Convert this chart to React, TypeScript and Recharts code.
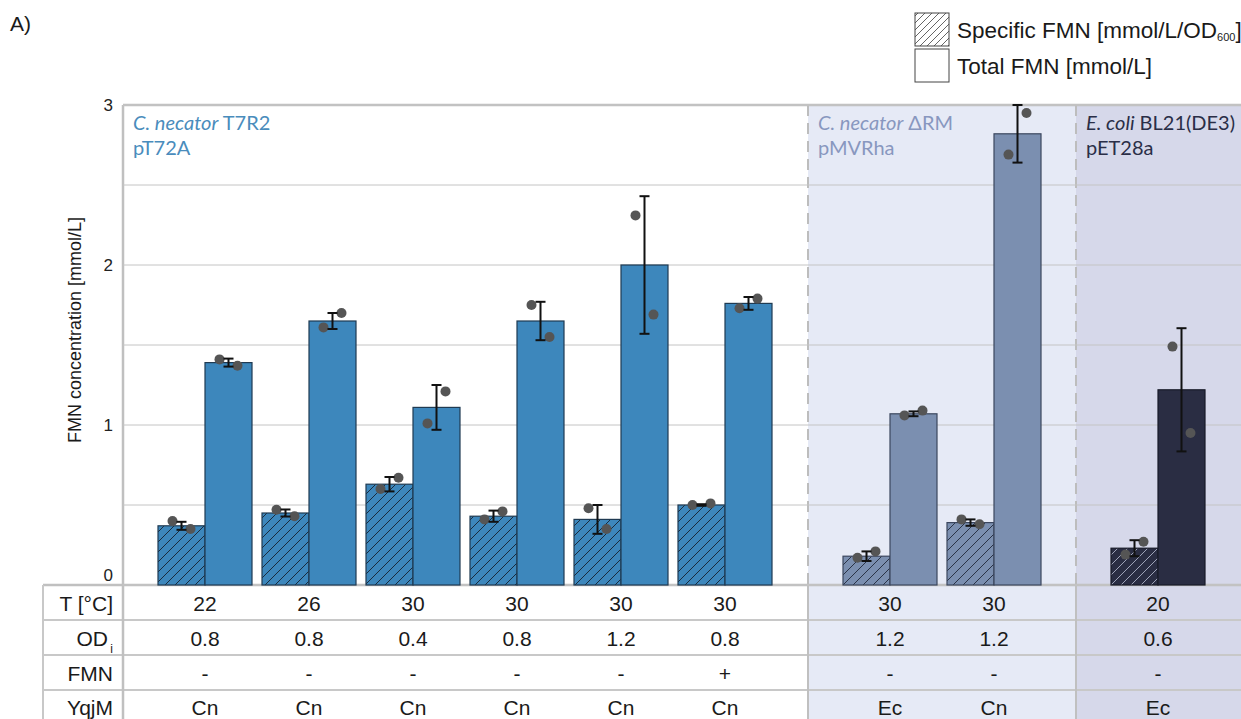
import React from 'react';
import { ComposedChart, Bar, ErrorBar, XAxis, YAxis, CartesianGrid } from 'recharts';

// culture conditions shown in the table under the bars
const temperatures = ['22', '26', '30', '30', '30', '30', '30', '30', '20'];
const initialOd = ['0.8', '0.8', '0.4', '0.8', '1.2', '0.8', '1.2', '1.2', '0.6'];
const fmnAdded = ['-', '-', '-', '-', '-', '+', '-', '-', '-'];
const yqjmOrigin = ['Cn', 'Cn', 'Cn', 'Cn', 'Cn', 'Cn', 'Ec', 'Cn', 'Ec'];

// specific FMN [mmol/L/OD600]
const specificMean = [0.37, 0.45, 0.63, 0.43, 0.41, 0.5, 0.18, 0.39, 0.23];
const specificSd = [0.025, 0.022, 0.045, 0.035, 0.09, 0.005, 0.03, 0.02, 0.05];
const specificReplicates = [
  [0.4, 0.35], [0.47, 0.43], [0.6, 0.67], [0.41, 0.46], [0.48, 0.35],
  [0.5, 0.51], [0.17, 0.21], [0.41, 0.38], [0.19, 0.27],
];

// total FMN [mmol/L]
const totalMean = [1.39, 1.65, 1.11, 1.65, 2.0, 1.76, 1.07, 2.82, 1.22];
const totalSd = [0.025, 0.05, 0.14, 0.12, 0.43, 0.04, 0.015, 0.18, 0.385];
const totalReplicates = [
  [1.41, 1.37], [1.61, 1.7], [1.01, 1.21], [1.75, 1.55], [2.31, 1.69],
  [1.73, 1.79], [1.06, 1.09], [2.69, 2.95], [1.49, 0.95],
];

const yTicks = [0, 0.5, 1, 1.5, 2, 2.5, 3];

const W = 1241;
const H = 719;
const TOP = 105;
const BASE = 585;
const AXIS_X = 123;
const TABLE_LEFT = 43;
const ROW_LINES = [620, 655, 690];
const ROW_TEXT = [603, 638, 673, 707];
const SANS = '"Liberation Sans", Arial, sans-serif';
const TITLE_FONT = 'Lato, "Open Sans", sans-serif';

const rows = temperatures.map((_, i) => ({
  name: String(i),
  specific: specificMean[i],
  specificSd: specificSd[i],
  specificReps: specificReplicates[i],
  total: totalMean[i],
  totalSd: totalSd[i],
  totalReps: totalReplicates[i],
}));

const sections = [
  {
    key: 's1', from: 0, to: 6, left: 0, width: 808, padRight: 31, yAxis: true,
    fill: '#3d87bc', stroke: '#1f3a52', hatch: '#1b2c3d', bg: 'none',
    titleColor: '#4a8cbc', italic: 'C. necator', rest: ' T7R2', plasmid: 'pT72A',
  },
  {
    key: 's2', from: 6, to: 8, left: 808, width: 268, padRight: 30, yAxis: false,
    fill: '#7b8fb0', stroke: '#3b465e', hatch: '#2a3346', bg: '#e6eaf6',
    titleColor: '#8897bf', italic: 'C. necator', rest: ' \u0394RM', plasmid: 'pMVRha',
  },
  {
    key: 's3', from: 8, to: 9, left: 1076, width: 165, padRight: 31, yAxis: false,
    fill: '#2a2d43', stroke: '#181a28', hatch: '#9ea3b8', bg: '#d6d8ea',
    titleColor: '#2a2e47', italic: 'E. coli', rest: ' BL21(DE3)', plasmid: 'pET28a',
  },
];

type Section = (typeof sections)[number];

// bar rectangle plus the replicate dots, placed with the bar's own pixel scale
const barShape = (sec: Section, kind: 'specific' | 'total') => (props: any) => {
  const { x, y, width, height, payload } = props;
  const value = payload[kind];
  const base = y + height;
  const perUnit = height / value;
  const reps: number[] = payload[kind + 'Reps'];
  const mid = x + width / 2;
  return (
    <g>
      <rect
        x={x}
        y={y}
        width={width}
        height={height}
        fill={kind === 'specific' ? `url(#hatch-${sec.key})` : sec.fill}
        stroke={sec.stroke}
        strokeWidth={1.2}
      />
      {reps.map((r, j) => (
        <circle key={j} cx={mid + (j === 0 ? -9 : 9)} cy={base - r * perUnit} r={5} fill="#555555" />
      ))}
    </g>
  );
};

const TableTick = (props: any) => {
  const i = Number(props.payload.value);
  const cells = [temperatures[i], initialOd[i], fmnAdded[i], yqjmOrigin[i]];
  return (
    <g>
      {cells.map((c, r) => (
        <text
          key={r}
          x={props.x}
          y={ROW_TEXT[r]}
          textAnchor="middle"
          dominantBaseline="central"
          fontSize={21}
          fontFamily={SANS}
          fill="#1a1a1a"
        >
          {c}
        </text>
      ))}
    </g>
  );
};

const YTick = (props: any) => {
  const { y, payload } = props;
  if (!Number.isInteger(payload.value)) return <g />;
  return (
    <text
      x={AXIS_X - 10}
      y={payload.value === 0 ? y - 10 : y}
      textAnchor="end"
      dominantBaseline="central"
      fontSize={17}
      fontFamily={SANS}
      fill="#222"
    >
      {payload.value}
    </text>
  );
};

const SectionChart = ({ sec }: { sec: Section }) => (
  <div style={{ position: 'absolute', left: sec.left, top: 0 }}>
    <ComposedChart
      width={sec.width}
      height={H}
      data={rows.slice(sec.from, sec.to)}
      margin={{ top: TOP, right: 0, bottom: 0, left: 0 }}
      barGap={0}
      barCategoryGap={5}
    >
      <CartesianGrid vertical={false} stroke="#c4c4c4" strokeWidth={1} />
      <XAxis
        dataKey="name"
        interval={0}
        axisLine={false}
        tickLine={false}
        height={H - BASE}
        padding={{ left: 30, right: sec.padRight }}
        tick={<TableTick />}
      />
      <YAxis
        domain={[0, 3]}
        ticks={yTicks}
        hide={!sec.yAxis}
        width={AXIS_X}
        axisLine={false}
        tickLine={false}
        tick={<YTick />}
      />
      <Bar dataKey="specific" isAnimationActive={false} shape={barShape(sec, 'specific')}>
        <ErrorBar dataKey="specificSd" width={5} strokeWidth={2} stroke="#111" isAnimationActive={false} />
      </Bar>
      <Bar dataKey="total" isAnimationActive={false} shape={barShape(sec, 'total')}>
        <ErrorBar dataKey="totalSd" width={5} strokeWidth={2} stroke="#111" isAnimationActive={false} />
      </Bar>
    </ComposedChart>
  </div>
);

const Frame = () => {
  const dividers = [808, 1076];
  return (
    <svg width={W} height={H} style={{ position: 'absolute', left: 0, top: 0 }}>
      <defs>
        {sections.map((s) => (
          <pattern key={s.key} id={`hatch-${s.key}`} patternUnits="userSpaceOnUse" width={10} height={10}>
            <rect width={10} height={10} fill={s.fill} />
            <path d="M0,10 L10,0 M-2,2 L2,-2 M8,12 L12,8" stroke={s.hatch} strokeWidth={1} />
          </pattern>
        ))}
        <pattern id="hatch-legend" patternUnits="userSpaceOnUse" width={7} height={7}>
          <rect width={7} height={7} fill="#fff" />
          <path d="M0,7 L7,0 M-2,2 L2,-2 M5,9 L9,5" stroke="#555" strokeWidth={0.9} />
        </pattern>
      </defs>

      {/* section backgrounds */}
      {sections.filter((s) => s.bg !== 'none').map((s) => (
        <rect key={s.key} x={s.left} y={TOP} width={s.width} height={H - TOP} fill={s.bg} />
      ))}

      {/* frame and table rules */}
      <line x1={AXIS_X} y1={TOP} x2={W} y2={TOP} stroke="#c0c0c0" strokeWidth={2.5} />
      <line x1={TABLE_LEFT} y1={BASE} x2={W} y2={BASE} stroke="#c0c0c0" strokeWidth={2.5} />
      {ROW_LINES.map((y) => (
        <line key={y} x1={TABLE_LEFT} y1={y} x2={W} y2={y} stroke="#c8c8c8" strokeWidth={2} />
      ))}
      <line x1={AXIS_X} y1={TOP} x2={AXIS_X} y2={H} stroke="#c0c0c0" strokeWidth={2.5} />
      <line x1={TABLE_LEFT} y1={BASE} x2={TABLE_LEFT} y2={H} stroke="#c8c8c8" strokeWidth={2} />
      {dividers.map((x) => (
        <g key={x}>
          <line x1={x} y1={TOP} x2={x} y2={BASE} stroke="#bdbdbd" strokeWidth={2} strokeDasharray="11 7" />
          <line x1={x} y1={BASE} x2={x} y2={H} stroke="#c0c0c0" strokeWidth={2} />
        </g>
      ))}

      {/* row headers */}
      <g fontFamily={SANS} fontSize={21} fill="#1a1a1a" textAnchor="end">
        <text x={113} y={ROW_TEXT[0]} dominantBaseline="central">T [°C]</text>
        <text x={108} y={ROW_TEXT[1]} dominantBaseline="central">OD</text>
        <text x={113} y={ROW_TEXT[1] + 11} fontSize={12} dominantBaseline="central">i</text>
        <text x={113} y={ROW_TEXT[2]} dominantBaseline="central">FMN</text>
        <text x={113} y={ROW_TEXT[3]} dominantBaseline="central">YqjM</text>
      </g>

      <text
        x={75}
        y={330}
        transform="rotate(-90 75 330)"
        textAnchor="middle"
        dominantBaseline="central"
        fontFamily={SANS}
        fontSize={18}
        fill="#1a1a1a"
      >
        FMN concentration [mmol/L]
      </text>

      <text x={10} y={23} dominantBaseline="central" fontFamily={SANS} fontSize={21} fill="#1a1a1a">A)</text>

      {/* strain / plasmid captions */}
      {sections.map((s) => (
        <g key={s.key} fontFamily={TITLE_FONT} fontSize={20} fill={s.titleColor}>
          <text x={(s.yAxis ? AXIS_X : s.left) + 10} y={130}>
            <tspan fontStyle="italic">{s.italic}</tspan>
            {s.rest}
          </text>
          <text x={(s.yAxis ? AXIS_X : s.left) + 10} y={155}>{s.plasmid}</text>
        </g>
      ))}

      {/* legend */}
      <rect x={915} y={13} width={34} height={33} fill="url(#hatch-legend)" stroke="#444" strokeWidth={1} />
      <rect x={915} y={49} width={34} height={33} fill="#fff" stroke="#444" strokeWidth={1} />
      <g fontFamily={SANS} fontSize={22.5} fill="#1a1a1a">
        <text x={957} y={30} dominantBaseline="central">
          Specific FMN [mmol/L/OD
          <tspan fontSize={11} dy={7}>600</tspan>
          <tspan dy={-7}>]</tspan>
        </text>
        <text x={957} y={66} dominantBaseline="central">Total FMN [mmol/L]</text>
      </g>
    </svg>
  );
}
;

export default function App() {
  return (
    <div
      style={{
        position: 'absolute',
        left: 0,
        top: 0,
        width: W,
        height: H,
        background: '#fff',
        overflow: 'hidden',
        fontFamily: SANS,
      }}
    >
      <Frame />
      {sections.map((s) => (
        <SectionChart key={s.key} sec={s} />
      ))}
    </div>
  );
}
